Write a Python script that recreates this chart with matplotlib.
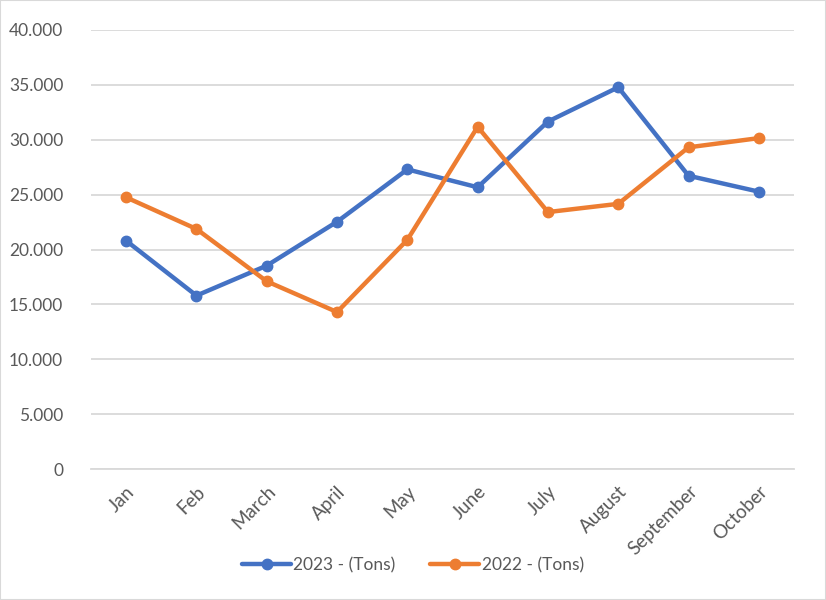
import matplotlib
matplotlib.use("Agg")
import matplotlib.pyplot as plt
from matplotlib.ticker import FuncFormatter, MultipleLocator
from matplotlib.patches import Rectangle

months = ["Jan", "Feb", "March", "April", "May", "June", "July", "August", "September", "October"]
tons_2023 = [20800, 15800, 18530, 22530, 27300, 25670, 31660, 34780, 26720, 25270]
tons_2022 = [24750, 21870, 17100, 14300, 20880, 31180, 23410, 24160, 29310, 30150]

plt.rcParams['font.family'] = ['Lato', 'DejaVu Sans']
text_color = '#595959'

fig = plt.figure(figsize=(8.26, 6.0), dpi=100)
ax = fig.add_axes([91/826, (600-469)/600, (794-91)/826, (469-30)/600])

x = list(range(len(months)))
ax.plot(x, tons_2023, color='#4472C4', lw=3.2, marker='o', ms=7.5, label='2023 - (Tons)',
        solid_capstyle='round', solid_joinstyle='round', zorder=3)
ax.plot(x, tons_2022, color='#ED7D31', lw=3.2, marker='o', ms=7.5, label='2022 - (Tons)',
        solid_capstyle='round', solid_joinstyle='round', zorder=3)

ax.set_xlim(-0.5, len(months) - 0.5)
ax.set_ylim(0, 40000)
ax.yaxis.set_major_locator(MultipleLocator(5000))
ax.yaxis.set_major_formatter(FuncFormatter(lambda v, p: f"{int(v):,}".replace(",", ".")))
ax.grid(axis='y', color='#D9D9D9', lw=1.3, zorder=0)
ax.set_axisbelow(True)
for s in ['top', 'right', 'left']:
    ax.spines[s].set_visible(False)
ax.spines['bottom'].set_color('#D9D9D9')
ax.spines['bottom'].set_linewidth(1.3)
ax.tick_params(axis='both', length=0, labelcolor=text_color)
ax.tick_params(axis='y', pad=20, labelsize=12.5)
ax.tick_params(axis='x', pad=10, labelsize=13.5)
ax.set_xticks(x)
ax.set_xticklabels(months, rotation=45, ha='right', va='top', rotation_mode='anchor')

leg = fig.legend(loc='center', bbox_to_anchor=(413/826, 1 - 565/600), ncol=2, frameon=False,
                 fontsize=12.5, handlelength=2.8, columnspacing=2.0, handletextpad=0.15,
                 labelcolor=text_color)

fig.patches.append(Rectangle((0, 0), 1, 1, transform=fig.transFigure, fill=False,
                             edgecolor='#D9D9D9', lw=1.5))

fig.savefig('out.png', dpi=100)
